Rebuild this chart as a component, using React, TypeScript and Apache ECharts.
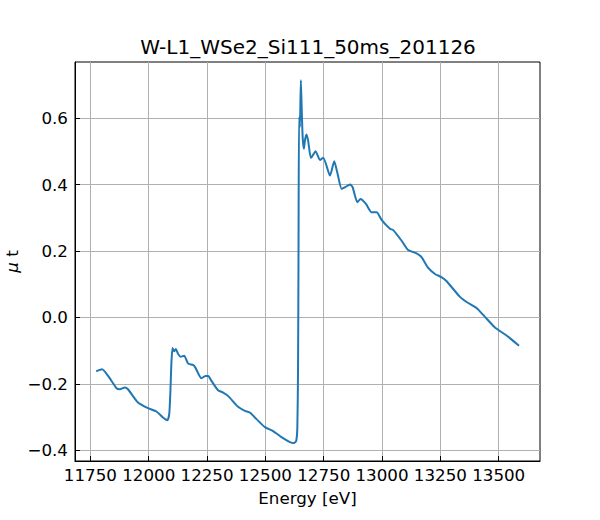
import { useEffect, useRef } from 'react';
import * as echarts from 'echarts';

const chartTitle = 'W-L1_WSe2_Si111_50ms_201126';

// energy in eV
const energy = [
  11775, 11800, 11826, 11862, 11876, 11897, 11911, 11954, 11997, 12033,
  12061, 12080, 12088, 12093, 12097, 12102, 12109, 12116, 12126, 12137,
  12152, 12169, 12190, 12200, 12226, 12243, 12255, 12269, 12297, 12319,
  12340, 12383, 12412, 12433, 12462, 12498, 12533, 12569, 12605, 12622,
  12632, 12637, 12640, 12642, 12644, 12646, 12648, 12652, 12656, 12660,
  12665, 12670, 12676, 12683, 12695, 12705, 12715, 12734, 12748, 12777,
  12795, 12808, 12827, 12841, 12863, 12874, 12894, 12908, 12931, 12955,
  12977, 12998, 13034, 13048, 13084, 13112, 13148, 13170, 13198, 13227,
  13256, 13277, 13334, 13366, 13406, 13441, 13484, 13535, 13587
];

// absorption mu*t
const mu = [
  -0.162, -0.156, -0.176, -0.213, -0.216, -0.211, -0.216, -0.256, -0.273, -0.283,
  -0.301, -0.309, -0.29, -0.22, -0.14, -0.092, -0.102, -0.095, -0.11, -0.118,
  -0.115, -0.139, -0.143, -0.151, -0.183, -0.176, -0.176, -0.191, -0.219, -0.226,
  -0.236, -0.269, -0.281, -0.286, -0.306, -0.33, -0.342, -0.36, -0.375, -0.378,
  -0.372, -0.33, -0.15, 0.2, 0.603, 0.598, 0.573, 0.714, 0.62, 0.54,
  0.508, 0.535, 0.551, 0.533, 0.48, 0.49, 0.5, 0.474, 0.481, 0.427,
  0.47, 0.437, 0.387, 0.392, 0.4, 0.392, 0.347, 0.357, 0.342, 0.317,
  0.317, 0.294, 0.267, 0.263, 0.231, 0.203, 0.193, 0.181, 0.149, 0.131,
  0.121, 0.109, 0.062, 0.045, 0.028, 0.002, -0.03, -0.055, -0.085
];

const xTicks = [11750, 12000, 12250, 12500, 12750, 13000, 13250, 13500];
const yTicks = [-0.4, -0.2, 0.0, 0.2, 0.4, 0.6];

const font = 'DejaVu Sans';

export default function App() {
  const chartRef = useRef<HTMLDivElement | null>(null);

  useEffect(() => {
    if (!chartRef.current) return;
    const chart = echarts.init(chartRef.current, null, { renderer: 'svg' });

    chart.setOption({
      animation: false,
      textStyle: { fontFamily: font },
      title: {
        text: chartTitle,
        left: 303,
        top: 32,
        textAlign: 'center',
        textStyle: { fontFamily: font, fontSize: 20, fontWeight: 'normal', color: '#000' }
      },
      grid: {
        left: 75,
        right: 60,
        top: 62,
        bottom: 59,
        outerBoundsMode: 'none',
        containLabel: false,
        show: true,
        borderColor: '#000',
        borderWidth: 1
      },
      xAxis: {
        type: 'value',
        min: 11684,
        max: 13677,
        name: 'Energy [eV]',
        nameLocation: 'middle',
        nameGap: 28,
        nameTextStyle: { fontFamily: font, fontSize: 16.7, color: '#000' },
        axisLine: { onZero: false, lineStyle: { color: '#000', width: 1 } },
        axisTick: { inside: true, length: 5, customValues: xTicks, lineStyle: { color: '#000' } },
        axisLabel: {
          customValues: xTicks,
          fontSize: 16.7,
          color: '#000',
          margin: 5,
          formatter: (v: number) => String(v)
        },
        splitLine: { show: true, lineStyle: { color: '#b0b0b0', width: 1 } }
      },
      yAxis: {
        type: 'value',
        min: -0.432,
        max: 0.769,
        name: '{i|μ} t',
        nameLocation: 'middle',
        nameGap: 55,
        nameRotate: 90,
        nameMoveOverlap: false,
        nameTextStyle: {
          fontFamily: font,
          fontSize: 16.7,
          color: '#000',
          rich: { i: { fontFamily: font, fontSize: 16.7, fontStyle: 'italic', color: '#000' } }
        },
        axisLine: { show: true, onZero: false, lineStyle: { color: '#000', width: 1 } },
        axisTick: { show: true, inside: true, length: 5, customValues: yTicks, lineStyle: { color: '#000' } },
        axisLabel: {
          customValues: yTicks,
          fontSize: 16.7,
          color: '#000',
          margin: 7,
          formatter: (v: number) => v.toFixed(1).replace('-', '\u2212')
        },
        splitLine: { show: true, lineStyle: { color: '#b0b0b0', width: 1 } }
      },
      series: [
        {
          type: 'line',
          data: energy.map((e, i) => [e, mu[i]]),
          showSymbol: false,
          smooth: 0.2,
          lineStyle: { color: '#1f77b4', width: 2 },
          itemStyle: { color: '#1f77b4' }
        }
      ]
    });

    return () => chart.dispose();
  }, []);

  return (
    <div
      ref={chartRef}
      style={{ position: 'fixed', left: 0, top: 0, width: 600, height: 520, background: '#fff' }}
    />
  );
}
